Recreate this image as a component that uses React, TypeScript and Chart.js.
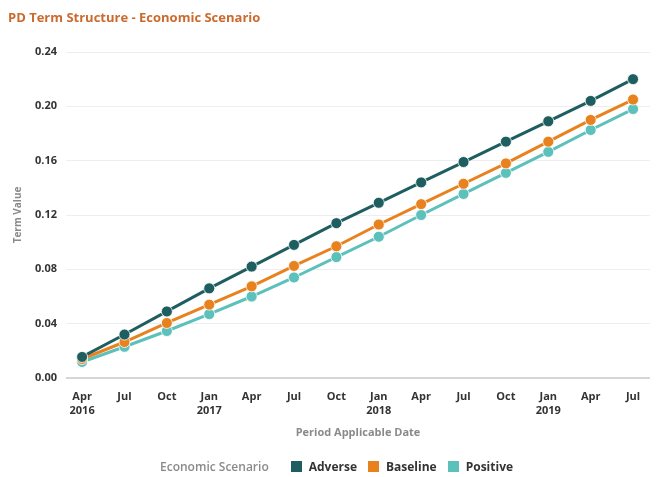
import React, { useEffect, useRef } from "react";
import { Chart, registerables } from "chart.js";

Chart.register(...registerables);

const periodLabels: string[][] = [
  ["Apr", "2016"], ["Jul"], ["Oct"], ["Jan", "2017"], ["Apr"], ["Jul"], ["Oct"],
  ["Jan", "2018"], ["Apr"], ["Jul"], ["Oct"], ["Jan", "2019"], ["Apr"], ["Jul"],
];

const adverse = [0.0155, 0.032, 0.049, 0.066, 0.082, 0.098, 0.114, 0.129, 0.144, 0.159, 0.174, 0.189, 0.204, 0.220];
const baseline = [0.014, 0.0265, 0.0405, 0.054, 0.0675, 0.0825, 0.097, 0.113, 0.128, 0.143, 0.158, 0.174, 0.190, 0.205];
const positive = [0.0118, 0.023, 0.0346, 0.047, 0.060, 0.074, 0.089, 0.104, 0.120, 0.1355, 0.151, 0.1665, 0.1826, 0.198];

const yTicks = [0, 0.04, 0.08, 0.12, 0.16, 0.2, 0.24];

const seriesNames = ["Adverse", "Baseline", "Positive"];
const seriesColors = ["#1f5e60", "#e8821e", "#5cc0bb"];
const seriesValues = [adverse, baseline, positive];

const FONT = "'Open Sans', 'Noto Sans', sans-serif";

export default function App() {
  const ref = useRef<HTMLCanvasElement | null>(null);

  useEffect(() => {
    if (!ref.current) return;
    const chart = new Chart(ref.current, {
      type: "line",
      data: {
        datasets: seriesValues.map((vals, s) => ({
          label: seriesNames[s],
          data: vals.map((v, i) => ({ x: i, y: v })),
          borderColor: seriesColors[s],
          backgroundColor: seriesColors[s],
          pointBackgroundColor: seriesColors[s],
          pointBorderColor: "rgba(255,255,255,0.8)",
          pointBorderWidth: 1,
          pointRadius: 5.5,
          borderWidth: 3,
          tension: 0,
        })),
      },
      options: {
        animation: false,
        responsive: true,
        maintainAspectRatio: false,
        layout: { padding: { left: 8, right: 7, top: 0, bottom: 29 } },
        plugins: {
          legend: { display: false },
          tooltip: { enabled: false },
          title: {
            display: true,
            text: "PD Term Structure - Economic Scenario",
            align: "start",
            color: "#cc6a2e",
            font: { family: FONT, size: 13, weight: "bold" },
            padding: { top: 10.2, bottom: 26.2 },
          },
        },
        scales: {
          x: {
            type: "linear",
            min: -0.38,
            max: 13.4,
            afterFit: (scale: any) => {
              scale.height = 70;
            },
            afterBuildTicks: (scale: any) => {
              scale.ticks = periodLabels.map((_, i) => ({ value: i }));
            },
            grid: { display: false, drawTicks: false },
            border: { display: false },
            ticks: {
              autoSkip: false,
              maxRotation: 0,
              includeBounds: false,
              padding: 11,
              color: "#333333",
              font: { family: FONT, size: 11, weight: "bold", lineHeight: 1.35 },
              callback: (v: any) => {
                const i = Math.round(Number(v));
                return periodLabels[i] ?? "";
              },
            },
            title: {
              display: true,
              text: "Period Applicable Date",
              color: "#8a8a8a",
              font: { family: FONT, size: 11, weight: "bold" },
              padding: { top: 0, bottom: 8.6 },
            },
          },
          y: {
            min: 0,
            max: 0.24,
            afterFit: (scale: any) => {
              scale.width = 58;
            },
            afterBuildTicks: (scale: any) => {
              scale.ticks = yTicks.map((v) => ({ value: v }));
            },
            grid: {
              drawTicks: false,
              color: (ctx: any) => (ctx.tick && ctx.tick.value === 0 ? "#d6d6d6" : "#eeeef2"),
              lineWidth: (ctx: any) => (ctx.tick && ctx.tick.value === 0 ? 2 : 1),
            },
            border: { display: false },
            ticks: {
              padding: 9,
              color: "#333333",
              font: { family: FONT, size: 11, weight: "bold" },
              callback: (v: any) => Number(v).toFixed(2),
            },
            title: {
              display: true,
              text: "Term Value",
              color: "#8a8a8a",
              font: { family: FONT, size: 10, weight: "bold" },
              padding: { top: 4, bottom: 0 },
            },
          },
        },
      },
    });
    return () => chart.destroy();
  }, []);

  return (
    <div style={{ position: "fixed", left: 0, top: 0, width: 657, height: 477, background: "#fff" }}>
      <canvas ref={ref} />
      <div
        style={{
          position: "absolute",
          left: 160,
          top: 458,
          display: "flex",
          alignItems: "center",
          fontFamily: FONT,
          fontSize: 12,
          whiteSpace: "nowrap",
        }}
      >
        <span style={{ color: "#8a8a8a", fontWeight: 600, marginRight: 22 }}>Economic Scenario</span>
        {seriesNames.map((n, s) => (
          <span key={n} style={{ display: "flex", alignItems: "center", marginRight: 11 }}>
            <span
              style={{ width: 11, height: 11, background: seriesColors[s], display: "inline-block", marginRight: 7 }}
            />
            <span style={{ color: "#333", fontWeight: "bold" }}>{n}</span>
          </span>
        ))}
      </div>
    </div>
  );
}
